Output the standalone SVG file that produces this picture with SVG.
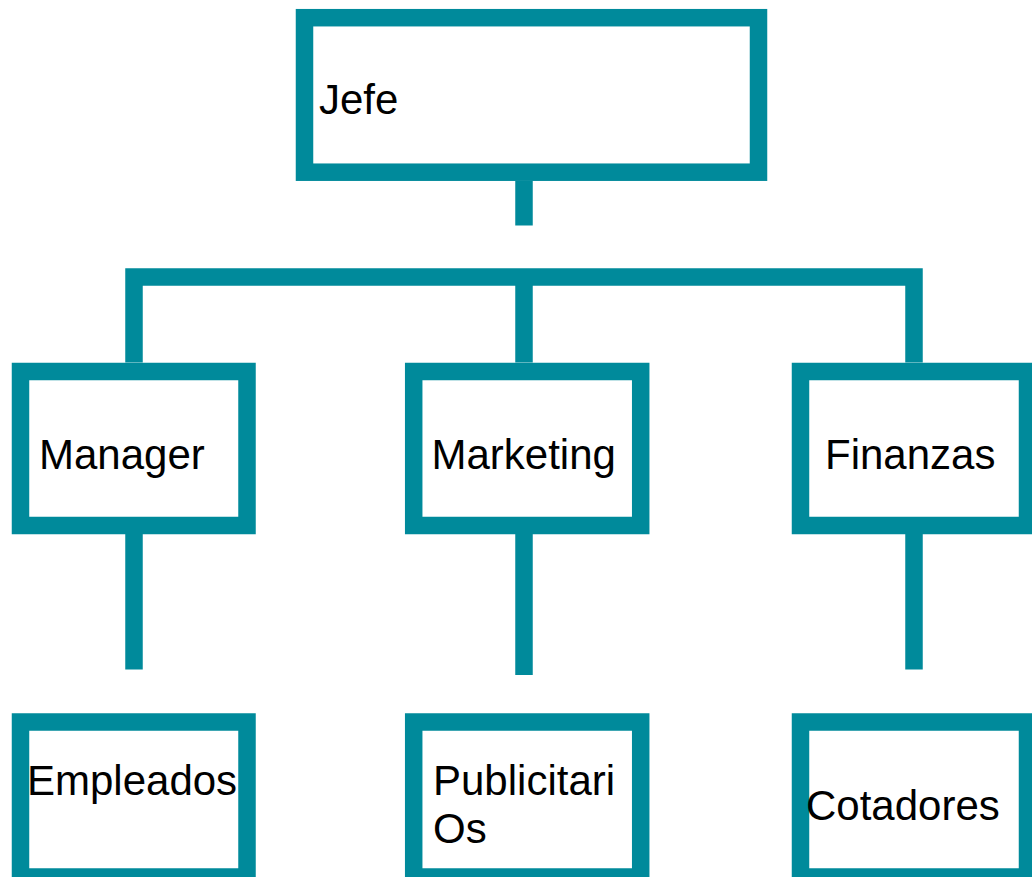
<svg xmlns="http://www.w3.org/2000/svg" width="1032" height="877" viewBox="0 0 1032 877">
<style>
.box{fill:#ffffff;stroke:#008a9b;stroke-width:17.5}
.con{fill:none;stroke:#008a9b;stroke-width:17.5;stroke-linecap:butt;stroke-linejoin:miter}
.lbl{font-family:"Liberation Sans",Arial,sans-serif;font-size:42px;fill:#000000}
</style>
<rect width="1032" height="877" fill="#ffffff"/>
<g id="connectors">
<path class="con" d="M524,181 V225.5"/>
<path class="con" d="M134,362.5 V277 H914 V362.5"/>
<path class="con" d="M524,277 V362.5"/>
<path class="con" d="M134,534 V669.5"/>
<path class="con" d="M524,534 V675"/>
<path class="con" d="M914,534 V669.5"/>
</g>
<g id="jefe">
<rect class="box" x="304.5" y="17.7" width="454" height="154.5"/>
<text class="lbl" x="319" y="114">Jefe</text>
</g>
<g id="manager">
<rect class="box" x="20.5" y="371.5" width="226.5" height="154"/>
<text class="lbl" x="39" y="469">Manager</text>
</g>
<g id="marketing">
<rect class="box" x="413.7" y="371.5" width="227" height="154"/>
<text class="lbl" x="431.5" y="468.5">Marketing</text>
</g>
<g id="finanzas">
<rect class="box" x="800.5" y="371.5" width="227" height="154"/>
<text class="lbl" x="825" y="468.5">Finanzas</text>
</g>
<g id="empleados">
<rect class="box" x="20.5" y="722" width="226.5" height="155"/>
<text class="lbl" x="27" y="795">Empleados</text>
</g>
<g id="publicitarios">
<rect class="box" x="413.7" y="722" width="227" height="155"/>
<text class="lbl" x="433" y="794.5">Publicitari</text>
<text class="lbl" x="433" y="843">Os</text>
</g>
<g id="cotadores">
<rect class="box" x="800.5" y="722" width="227" height="155"/>
<text class="lbl" x="806" y="820">Cotadores</text>
</g>
</svg>
